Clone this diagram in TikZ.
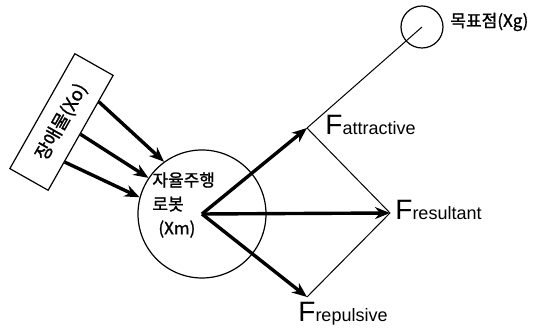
\documentclass[tikz,border=0pt]{standalone}
\usepackage{fontspec}
\setmainfont{Liberation Sans}
\newfontfamily\kr[FakeBold=1.2]{Noto Sans CJK KR}
\usetikzlibrary{arrows.meta, calc}
\newcommand\forcename[1]{{\fontsize{14}{14}\selectfont F}{\fontsize{9}{9}\selectfont #1}}

\begin{document}
\begin{tikzpicture}[x=0.5pt, y=-0.5pt, >=Stealth,
  force/.style={->, line width=1.7pt, >={Stealth[length=7.5pt, width=6pt]}},
  guide/.style={line width=0.5pt},
  korean/.style={font=\kr\fontsize{8.5}{12}\selectfont},
  flabel/.style={anchor=base west, inner sep=0pt}]
  \useasboundingbox (0,0) rectangle (548,330);
  % robot and goal
  \node[draw, circle, minimum size=64pt, inner sep=0pt, line width=0.6pt] (robot) at (202,214) {};
  \node[korean, align=left, anchor=west, inner sep=0pt] (robotname) at (152,205) {자율주행\\로봇\\\hspace{3pt}(Xm)};
  \node[draw, circle, minimum size=21pt, inner sep=0pt, line width=0.6pt] (goal) at (422,27) {};
  \node[korean, anchor=west, inner sep=0pt] (goalname) at (450,22) {목표점(Xg)};
  % obstacle
  \node[draw, rotate=60.5, minimum width=66pt, minimum height=22pt, line width=0.6pt,
    korean, font=\kr\fontsize{9.2}{12}\selectfont] (obstacle) at (61.5,122) {장애물(Xo)};
  \coordinate (o1) at ($(obstacle.south east)!0.23!(obstacle.south west)$);
  \coordinate (o2) at ($(obstacle.south east)!0.51!(obstacle.south west)$);
  \coordinate (o3) at ($(obstacle.south east)!0.75!(obstacle.south west)$);
  \draw[force] (o1) -- (robot.126);
  \draw[force] (o2) -- (robot.146);
  \draw[force] (o3) -- (robot.165);
  % forces
  \coordinate (fatt) at (307,128);
  \coordinate (fres) at (390,213);
  \coordinate (frep) at (307,297);
  \draw[guide] (fatt) -- (goal.center);
  \draw[guide] (fatt) -- (fres) -- (frep);
  \draw[force] (robot.center) -- (fatt);
  \draw[force] (robot.center) -- (fres);
  \draw[force] (robot.center) -- (frep);
  \node[flabel] (fattname) at (325,135) {\forcename{attractive}};
  \node[flabel] (fresname) at (395,220) {\forcename{resultant}};
  \node[flabel] (frepname) at (298,322) {\forcename{repulsive}};
\end{tikzpicture}
\end{document}
